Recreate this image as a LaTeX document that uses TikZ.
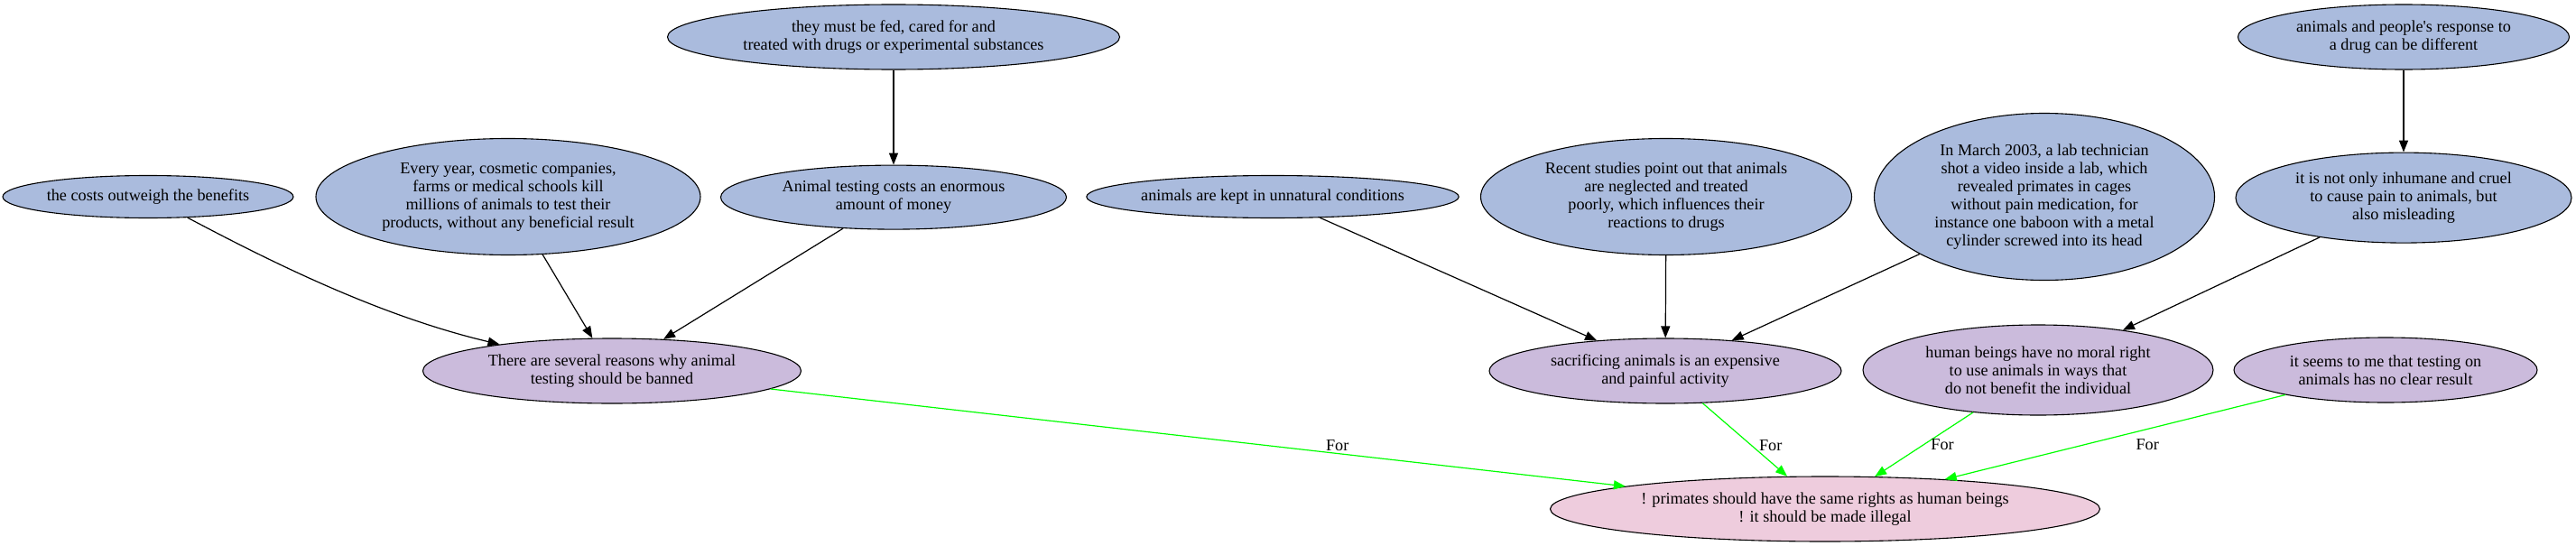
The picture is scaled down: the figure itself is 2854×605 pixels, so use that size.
\documentclass[tikz,border=0pt]{standalone}
\usepackage{fontspec}
\setmainfont{Liberation Serif}
\usetikzlibrary{positioning,shapes.geometric,arrows.meta}

\definecolor{premise}{RGB}{170,187,221}
\definecolor{reason}{RGB}{203,187,220}
\definecolor{claim}{RGB}{238,204,221}

\begin{document}
\begin{tikzpicture}[x=1pt, y=-1pt,
  nodes = {font=\fontsize{18.2}{20}\selectfont},
  arg/.style = {draw, ellipse, line width=1.1pt, inner sep=0pt,
    align=center},
  prem/.style = {arg, fill=premise},
  reas/.style = {arg, fill=reason},
  main/.style = {arg, fill=claim},
  lbl/.style = {inner sep=1pt},
  arr/.style = {line width=1.2pt, -{Triangle[length=13pt,width=10pt]}},
  pro/.style = {arr, draw=green}
  ]
  \useasboundingbox (0,0) rectangle (2854,605);

  % top row
  \node (fed) [prem, minimum width=501pt, minimum height=72pt] at (990,41)
    {they must be fed, cared for and\\treated with drugs or experimental substances};
  \node (people) [prem, minimum width=367pt, minimum height=72pt] at (2663,41)
    {animals and people\textquotesingle s response to\\a drug can be different};

  % middle row
  \node (costs) [prem, minimum width=322pt, minimum height=47pt] at (164,218)
    {the costs outweigh the benefits};
  \node (every) [prem, minimum width=426pt, minimum height=129pt] at (563,218)
    {Every year, cosmetic companies,\\farms or medical schools kill\\millions of animals to test their\\products, without any beneficial result};
  \node (animcost) [prem, minimum width=383pt, minimum height=71pt, below=105pt of fed]
    {Animal testing costs an enormous\\amount of money};
  \node (kept) [prem, minimum width=409pt, minimum height=47pt] at (1410,218)
    {animals are kept in unnatural conditions};
  \node (recent) [prem, minimum width=411pt, minimum height=129pt] at (1846,218)
    {Recent studies point out that animals\\are neglected and treated\\poorly, which influences their\\reactions to drugs};
  \node (march) [prem, minimum width=377pt, minimum height=185pt] at (2265,218)
    {In March 2003, a lab technician\\shot a video inside a lab, which\\revealed primates in cages\\without pain medication, for\\instance one baboon with a metal\\cylinder screwed into its head};
  \node (notonly) [prem, minimum width=372pt, minimum height=100pt, below=91pt of people]
    {it is not only inhumane and cruel\\to cause pain to animals, but\\also misleading};

  % reasons
  \node (several) [reas, minimum width=419pt, minimum height=72pt] at (678,411)
    {There are several reasons why animal\\testing should be banned};
  \node (sacrif) [reas, minimum width=390pt, minimum height=72pt] at (1845,411)
    {sacrificing animals is an expensive\\and painful activity};
  \node (human) [reas, minimum width=388pt, minimum height=100pt] at (2258,410)
    {human beings have no moral right\\to use animals in ways that\\do not benefit the individual};
  \node (seems) [reas, minimum width=336pt, minimum height=72pt] at (2643,410)
    {it seems to me that testing on\\animals has no clear result};

  % claim
  \node (primates) [main, minimum width=609pt, minimum height=72pt] at (2022,564)
    {! primates should have the same rights as human beings\\! it should be made illegal};

  \draw[arr] (fed) -- (animcost);
  \draw[arr] (people) -- (notonly);
  \draw[arr] (costs) .. controls (300,290) and (420,350) .. (several);
  \draw[arr] (every) -- (several);
  \draw[arr] (animcost) -- (several);
  \draw[arr] (kept) -- (sacrif);
  \draw[arr] (recent) -- (sacrif);
  \draw[arr] (march) -- (sacrif);
  \draw[arr] (notonly) -- (human);

  \draw[pro] (several) -- node[lbl, pos=0.663, yshift=8.6pt] {For} (primates);
  \draw[pro] (sacrif) -- node[lbl, pos=0.573, xshift=21.6pt] {For} (primates);
  \draw[pro] (human) -- node[lbl, pos=0.507, xshift=21.3pt] {For} (primates);
  \draw[pro] (seems) -- node[lbl, pos=0.405, yshift=-17.7pt] {For} (primates);
\end{tikzpicture}
\end{document}
